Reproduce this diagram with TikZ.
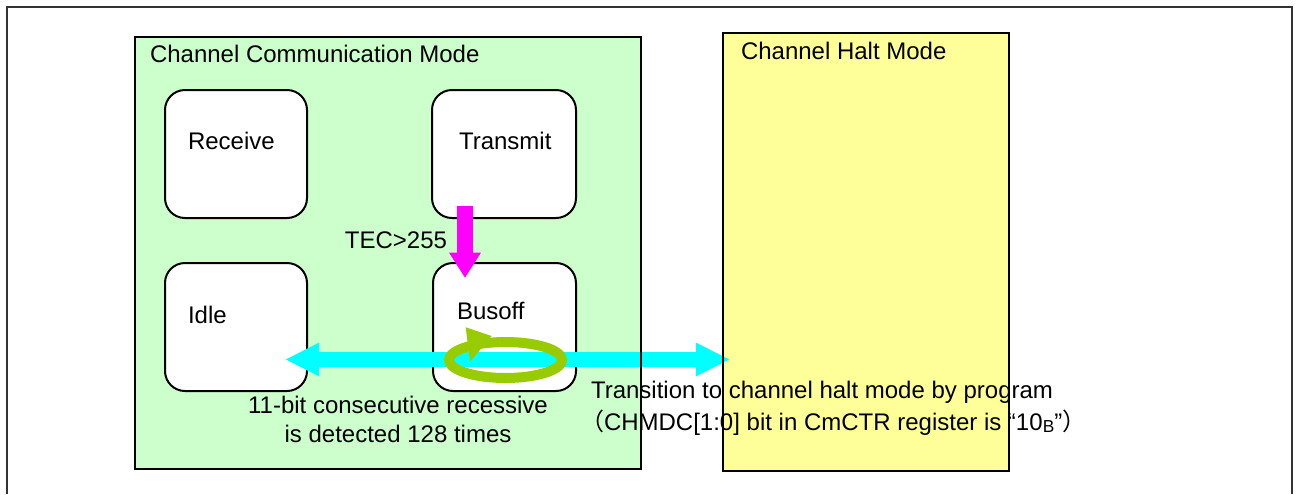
\documentclass[tikz,border=0pt]{standalone}
\usepackage{fontspec}
\setmainfont{Liberation Sans}
\newfontfamily\cjk{Noto Sans CJK JP}
\usetikzlibrary{arrows.meta}
\definecolor{commgreen}{HTML}{CCFFCC}
\definecolor{haltyellow}{HTML}{FFFF99}
\definecolor{aquaclr}{HTML}{00FFFF}
\definecolor{fuchsiaclr}{HTML}{FF00FF}
\definecolor{ringclr}{HTML}{99CC00}
\definecolor{framegray}{HTML}{333333}
\begin{document}
\begin{tikzpicture}[x=0.75pt,y=-0.75pt,
  modebox/.style={draw=black, line width=1.5pt, anchor=north west, inner sep=0pt, outer sep=0pt},
  statebox/.style={draw=black, line width=1.5pt, fill=white, rounded corners=15pt, anchor=north west, inner sep=0pt, outer sep=0pt, minimum width=106.5pt, minimum height=96pt},
  lbl/.style={anchor=base west, font=\fontsize{18}{22}\selectfont, inner sep=0pt, outer sep=0pt}]
\useasboundingbox[fill=white] (0,0) rectangle (1296,494);
% outer frame (open at bottom)
\draw[framegray, line width=1.5pt] (7,494) -- (7,7) -- (1292,7) -- (1292,494);
% mode boxes
\node[modebox, fill=commgreen, minimum width=379.5pt, minimum height=324pt] (comm) at (135,37) {};
\node[modebox, fill=haltyellow, minimum width=214.5pt, minimum height=328.5pt] (halt) at (723,33) {};
% state boxes
\node[statebox] (recv) at (165,90) {};
\node[statebox, minimum width=108pt] (tx) at (432,90) {};
\node[statebox] (idle) at (165,263) {};
\node[statebox, minimum width=107.25pt] (busoff) at (433,263) {};
% connector coordinates
\coordinate (magS) at (465,206);
\coordinate (magE) at (465,278);
\coordinate (cyL) at (285,359.5);
\coordinate (cyR) at (730,359.5);
% magenta arrow Transmit -> Busoff
\draw[fuchsiaclr, line width=12pt, -{Triangle[width=22.5pt,length=19pt]}] (magS) -- (magE);
% cyan double arrow
\draw[aquaclr, line width=11.25pt, {Triangle[width=23.25pt,length=25.5pt]}-{Triangle[width=23.25pt,length=25.5pt]}] (cyL) -- (cyR);
% green ring with arrowhead
\coordinate (ringC) at (505.5,360);
\draw[ringclr, line width=7.5pt] (ringC) ellipse [x radius=42.4pt, y radius=13.5pt];
\fill[ringclr] (465.7,327.3) -- (470,361.7) -- (491.7,336) -- cycle;
% texts
\node[lbl] (tcomm) at (150,62) {Channel Communication Mode};
\node[lbl] (thalt) at (741,59) {Channel Halt Mode};
\node[lbl] (trecv) at (188,149) {Receive};
\node[lbl] (ttx) at (459,149) {Transmit};
\node[lbl, anchor=base east] (ttec) at (447,248) {TEC>255};
\node[lbl] (tidle) at (188,323) {Idle};
\node[lbl] (tbus) at (457,319) {Busoff};
\node[lbl, anchor=base] (tcons1) at (398,413) {11-bit consecutive recessive};
\node[lbl, anchor=base] (tcons2) at (398,442) {is detected 128 times};
\node[lbl] (ttrans1) at (591,398) {Transition to channel halt mode by program};
\node[lbl] (ttrans2) at (580,430) {{\cjk （}CHMDC[1:0] bit in CmCTR register is “10\raisebox{-0.12em}{\fontsize{13}{15}\selectfont B}”{\cjk ）}};
% mode box borders redrawn over text
\draw[black, line width=1.5pt] (comm.north west) rectangle (comm.south east);
\draw[black, line width=1.5pt] (halt.north west) rectangle (halt.south east);
\end{tikzpicture}
\end{document}
